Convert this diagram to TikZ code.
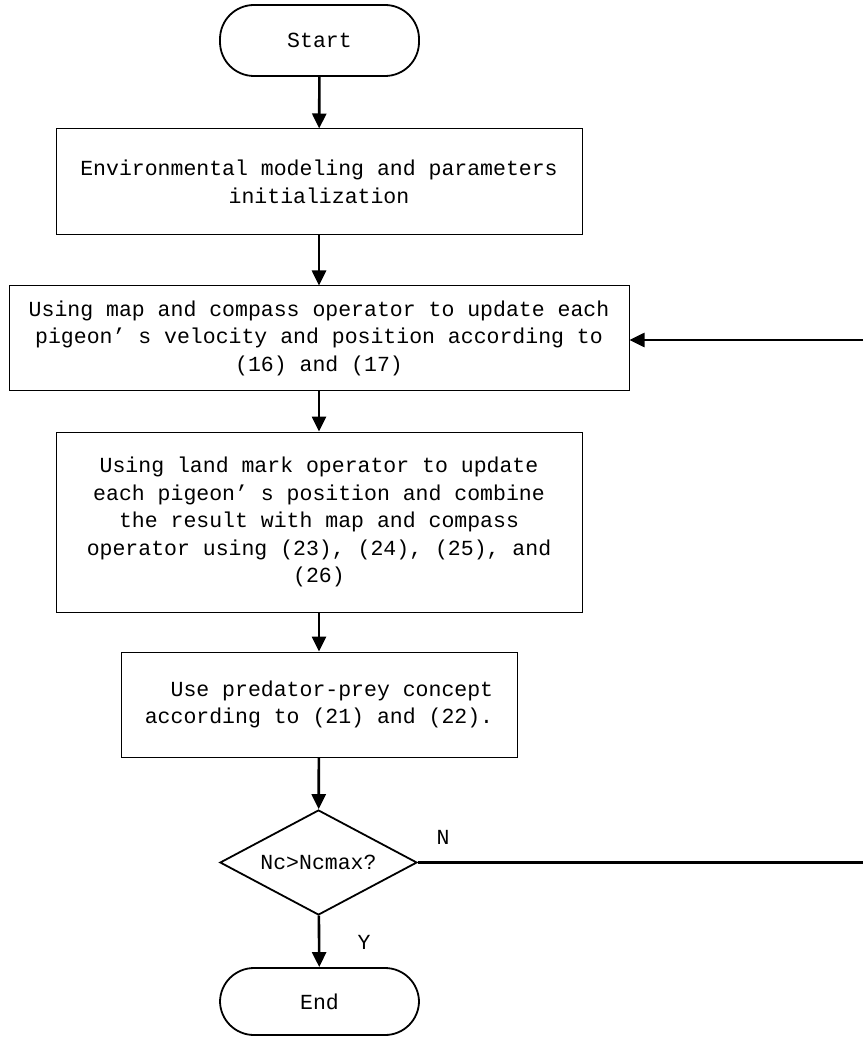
\documentclass[tikz,border=0pt]{standalone}
\usepackage{fontspec}
\setmainfont{Liberation Mono}
\usetikzlibrary{arrows.meta,shapes.geometric}
\tikzset{
  box/.style={draw, line width=1pt, rectangle, inner sep=0pt, align=center, font=\fontsize{21.5}{27.5}\selectfont},
  term/.style={draw, line width=1.8pt, rectangle, rounded corners=34pt, inner sep=0pt, font=\fontsize{21.5}{27.5}\selectfont},
  decision/.style={draw, line width=1.8pt, diamond, shape aspect=1.876, inner sep=0pt, font=\fontsize{21.5}{27.5}\selectfont},
  flow/.style={line width=2.6pt, -{Triangle[length=15pt,width=14pt]}},
  plain/.style={line width=2.6pt},
  lbl/.style={font=\fontsize{21.5}{27.5}\selectfont, inner sep=0pt}
}
\begin{document}
\begin{tikzpicture}[x=1pt,y=-1pt]
\useasboundingbox (0,0) rectangle (863,1040);
\node[term, minimum width=199pt, minimum height=71pt] (start) at (319.5,40.5) {Start};
\node[box, minimum width=526pt, minimum height=106pt] (init) at (319,182) {Environmental modeling and parameters\\initialization};
\node[box, minimum width=620pt, minimum height=104pt] (mc) at (319,338) {Using map and compass operator to update each\\pigeon’ s velocity and position according to\\(16) and (17)};
\node[box, minimum width=526pt, minimum height=180pt] (lm) at (319,522) {Using land mark operator to update\\each pigeon’ s position and combine\\the result with map and compass\\operator using (23), (24), (25), and\\(26)};
\node[box, minimum width=396pt, minimum height=105pt] (pp) at (319,704.5) {\hspace*{1.2em}Use predator-prey concept\\according to (21) and (22).};
\node[decision, minimum width=197pt, minimum height=105pt] (dec) at (318.5,862.5) {Nc>Ncmax?};
\node[term, minimum width=199pt, minimum height=67pt] (end) at (319.5,1001.5) {End};
\coordinate (rin) at (863,340);
\coordinate (rout) at (863,862.5);
\draw[flow] (start) -- (init);
\draw[flow] (init) -- (mc);
\draw[flow] (mc) -- (lm);
\draw[flow] (lm) -- (pp);
\draw[flow] (pp) -- (dec);
\draw[flow] (dec) -- (end);
\draw[plain] (dec.east) -- (rout);
\draw[flow] (rin) -- (mc.east |- rin);
\node[lbl] (nlab) at (443,837) {N};
\node[lbl] (ylab) at (364,942) {Y};
\end{tikzpicture}
\end{document}
